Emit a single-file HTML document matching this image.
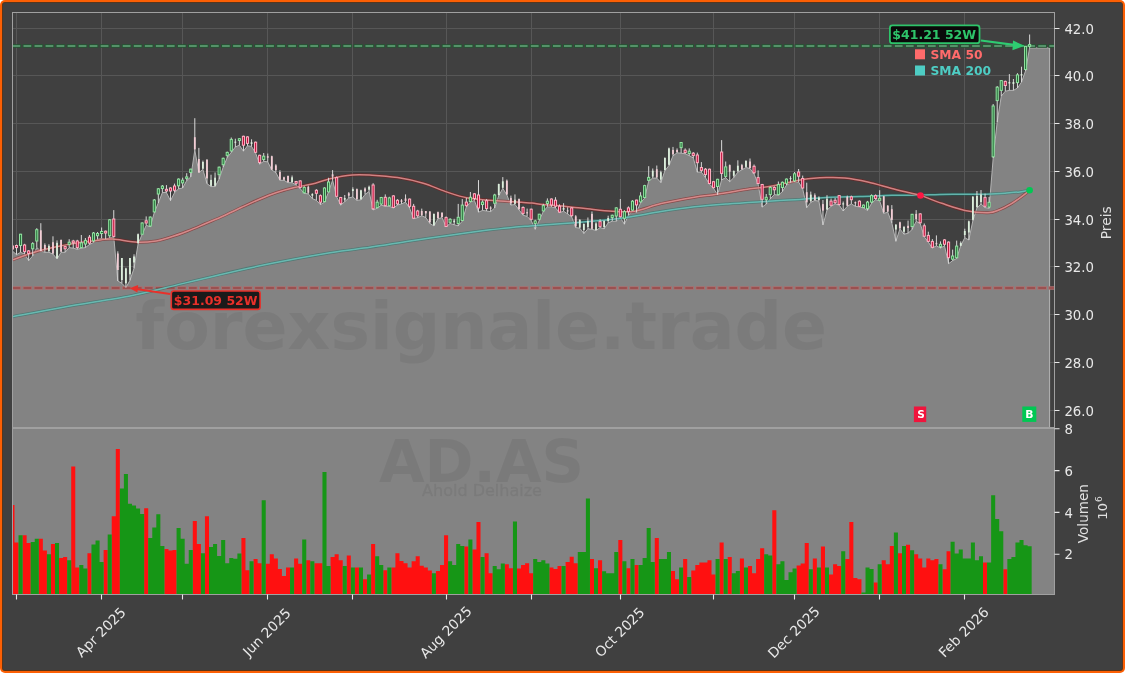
<!DOCTYPE html>
<html><head><meta charset="utf-8"><title>AD.AS Chart</title>
<style>html,body{margin:0;padding:0;background:#fff;width:1125px;height:673px;overflow:hidden}
#c{position:relative;width:1125px;height:673px}
svg{will-change:transform}</style></head>
<body><div id="c"><svg width="1125" height="673" viewBox="0 0 1125 673" style="position:absolute;left:0;top:0">
<defs><clipPath id="cp"><rect x="12.5" y="12.5" width="1042.0" height="415.5"/></clipPath>
<clipPath id="cv"><rect x="12.5" y="428.0" width="1042.0" height="166.5"/></clipPath></defs>
<rect x="0" y="0" width="1125" height="673" rx="5" ry="5" fill="#fc5f04"/>
<rect x="2" y="2" width="1121" height="669" rx="3" ry="3" fill="#5e3414"/>
<rect x="2.8" y="2.8" width="1119.4" height="667.2" rx="2" ry="2" fill="#404040"/>
<path d="M12.5 410.5H1054.5 M12.5 362.5H1054.5 M12.5 314.5H1054.5 M12.5 266.5H1054.5 M12.5 219.5H1054.5 M12.5 171.5H1054.5 M12.5 123.5H1054.5 M12.5 75.5H1054.5 M12.5 28.5H1054.5 M16.5 12.5V428.0 M101.5 12.5V428.0 M182.5 12.5V428.0 M267.5 12.5V428.0 M352.5 12.5V428.0 M446.5 12.5V428.0 M531.5 12.5V428.0 M620.5 12.5V428.0 M713.5 12.5V428.0 M794.5 12.5V428.0 M879.5 12.5V428.0 M964.5 12.5V428.0" stroke="#575757" stroke-width="1" fill="none" clip-path="url(#cp)"/>
<g clip-path="url(#cp)">
<polygon points="12.5,251.0 12.4,251.0 16.5,254.7 20.6,252.3 24.6,254.1 28.7,260.6 32.7,255.9 36.8,247.6 40.8,251.1 44.9,252.3 48.9,252.3 53.0,254.1 57.0,258.9 61.1,252.3 65.1,252.3 69.2,247.6 73.2,248.2 77.3,249.3 81.3,248.2 85.4,247.6 89.4,244.6 93.5,242.4 97.6,239.4 101.6,238.4 105.7,239.0 109.7,237.9 113.8,237.2 117.8,281.0 121.9,283.3 125.9,287.7 130.0,280.3 134.0,268.4 138.1,243.9 142.1,234.5 146.2,225.3 150.2,226.8 154.3,212.6 158.3,203.0 162.4,192.5 166.4,192.5 170.5,200.7 174.6,192.5 178.6,188.8 182.7,188.0 186.7,180.6 190.8,176.9 194.8,150.1 198.9,172.5 202.9,169.5 207.0,183.6 211.0,186.6 215.1,186.6 219.1,179.1 223.2,167.2 227.2,157.6 231.3,152.4 235.3,147.0 239.4,145.2 243.4,151.2 247.5,145.8 251.5,146.4 255.6,153.0 259.7,164.2 263.7,161.3 267.8,161.9 271.8,170.0 275.9,172.6 279.9,180.3 284.0,180.3 288.0,182.7 292.1,182.7 296.1,185.0 300.2,188.6 304.2,193.4 308.3,193.9 312.3,198.6 316.4,200.4 320.4,204.6 324.5,202.2 328.5,192.1 332.6,180.2 336.7,196.9 340.7,205.2 344.8,201.6 348.8,198.0 352.9,196.9 356.9,200.4 361.0,199.8 365.0,194.5 369.1,191.5 373.1,210.0 377.2,208.2 381.2,205.2 385.3,206.3 389.3,206.3 393.4,208.0 397.4,205.1 401.5,203.9 405.5,202.1 409.6,208.0 413.6,218.8 417.7,217.6 421.8,215.8 425.8,217.6 429.9,223.5 433.9,225.9 438.0,218.8 442.0,217.6 446.1,226.8 450.1,223.5 454.2,224.7 458.2,225.9 462.3,221.1 466.3,206.9 470.4,202.1 474.4,200.3 478.5,212.2 482.5,210.4 486.6,211.0 490.6,211.6 494.7,208.0 498.8,195.6 502.8,188.4 506.9,195.0 510.9,205.1 515.0,204.5 519.0,209.8 523.1,215.2 527.1,216.4 531.2,220.5 535.2,229.3 539.3,220.4 543.3,211.5 547.4,206.8 551.4,206.8 555.5,207.9 559.5,212.7 563.6,211.2 567.6,213.9 571.7,216.9 575.7,227.6 579.8,228.2 583.9,233.5 587.9,228.8 592.0,229.3 596.0,230.5 600.1,227.6 604.1,228.8 608.2,222.8 612.2,221.2 616.3,221.2 620.3,217.5 624.4,224.2 628.4,215.3 632.5,210.8 636.5,212.3 640.6,202.7 644.6,198.2 648.7,181.1 652.7,178.1 656.8,178.1 660.9,182.6 664.9,170.7 669.0,165.5 673.0,155.8 677.1,152.8 681.1,153.2 685.2,153.8 689.2,155.6 693.3,158.0 697.3,172.2 701.4,172.2 705.4,177.6 709.5,184.1 713.5,188.3 717.6,194.8 721.6,180.0 725.7,177.6 729.7,181.7 733.8,177.6 737.8,172.2 741.9,169.8 746.0,167.5 750.0,168.6 754.1,174.0 758.1,184.1 762.2,207.1 766.2,204.1 770.3,198.8 774.3,194.6 778.4,195.2 782.4,191.6 786.5,185.1 790.5,182.7 794.6,182.1 798.6,182.1 802.7,188.6 806.7,207.7 810.8,202.3 814.8,200.5 818.9,201.1 823.0,224.9 827.0,210.0 831.1,206.3 835.1,203.9 839.2,205.1 843.2,211.0 847.3,206.3 851.3,203.9 855.4,206.3 859.4,206.9 863.5,208.0 867.5,210.4 871.6,203.3 875.6,199.7 879.7,200.9 883.7,213.4 887.8,212.2 891.8,222.9 895.9,241.3 899.9,228.9 904.0,234.2 908.1,233.2 912.1,229.5 916.2,221.3 920.2,223.5 924.3,236.9 928.3,242.1 932.4,248.1 936.4,245.8 940.5,248.1 944.5,245.8 948.6,263.7 952.6,260.7 956.7,258.5 960.7,245.8 964.8,237.7 968.8,240.0 972.9,220.6 976.9,208.0 981.0,204.0 985.1,207.6 989.1,208.3 993.2,158.1 997.2,122.0 1001.3,96.1 1005.3,91.2 1009.4,90.4 1013.4,90.4 1017.5,88.0 1021.5,82.2 1025.6,70.8 1029.6,47.9 1049.6,47.9 1049.6,428.0 12.5,428.0" fill="#838383"/>
<polyline points="12.5,251.0 12.4,251.0 16.5,254.7 20.6,252.3 24.6,254.1 28.7,260.6 32.7,255.9 36.8,247.6 40.8,251.1 44.9,252.3 48.9,252.3 53.0,254.1 57.0,258.9 61.1,252.3 65.1,252.3 69.2,247.6 73.2,248.2 77.3,249.3 81.3,248.2 85.4,247.6 89.4,244.6 93.5,242.4 97.6,239.4 101.6,238.4 105.7,239.0 109.7,237.9 113.8,237.2 117.8,281.0 121.9,283.3 125.9,287.7 130.0,280.3 134.0,268.4 138.1,243.9 142.1,234.5 146.2,225.3 150.2,226.8 154.3,212.6 158.3,203.0 162.4,192.5 166.4,192.5 170.5,200.7 174.6,192.5 178.6,188.8 182.7,188.0 186.7,180.6 190.8,176.9 194.8,150.1 198.9,172.5 202.9,169.5 207.0,183.6 211.0,186.6 215.1,186.6 219.1,179.1 223.2,167.2 227.2,157.6 231.3,152.4 235.3,147.0 239.4,145.2 243.4,151.2 247.5,145.8 251.5,146.4 255.6,153.0 259.7,164.2 263.7,161.3 267.8,161.9 271.8,170.0 275.9,172.6 279.9,180.3 284.0,180.3 288.0,182.7 292.1,182.7 296.1,185.0 300.2,188.6 304.2,193.4 308.3,193.9 312.3,198.6 316.4,200.4 320.4,204.6 324.5,202.2 328.5,192.1 332.6,180.2 336.7,196.9 340.7,205.2 344.8,201.6 348.8,198.0 352.9,196.9 356.9,200.4 361.0,199.8 365.0,194.5 369.1,191.5 373.1,210.0 377.2,208.2 381.2,205.2 385.3,206.3 389.3,206.3 393.4,208.0 397.4,205.1 401.5,203.9 405.5,202.1 409.6,208.0 413.6,218.8 417.7,217.6 421.8,215.8 425.8,217.6 429.9,223.5 433.9,225.9 438.0,218.8 442.0,217.6 446.1,226.8 450.1,223.5 454.2,224.7 458.2,225.9 462.3,221.1 466.3,206.9 470.4,202.1 474.4,200.3 478.5,212.2 482.5,210.4 486.6,211.0 490.6,211.6 494.7,208.0 498.8,195.6 502.8,188.4 506.9,195.0 510.9,205.1 515.0,204.5 519.0,209.8 523.1,215.2 527.1,216.4 531.2,220.5 535.2,229.3 539.3,220.4 543.3,211.5 547.4,206.8 551.4,206.8 555.5,207.9 559.5,212.7 563.6,211.2 567.6,213.9 571.7,216.9 575.7,227.6 579.8,228.2 583.9,233.5 587.9,228.8 592.0,229.3 596.0,230.5 600.1,227.6 604.1,228.8 608.2,222.8 612.2,221.2 616.3,221.2 620.3,217.5 624.4,224.2 628.4,215.3 632.5,210.8 636.5,212.3 640.6,202.7 644.6,198.2 648.7,181.1 652.7,178.1 656.8,178.1 660.9,182.6 664.9,170.7 669.0,165.5 673.0,155.8 677.1,152.8 681.1,153.2 685.2,153.8 689.2,155.6 693.3,158.0 697.3,172.2 701.4,172.2 705.4,177.6 709.5,184.1 713.5,188.3 717.6,194.8 721.6,180.0 725.7,177.6 729.7,181.7 733.8,177.6 737.8,172.2 741.9,169.8 746.0,167.5 750.0,168.6 754.1,174.0 758.1,184.1 762.2,207.1 766.2,204.1 770.3,198.8 774.3,194.6 778.4,195.2 782.4,191.6 786.5,185.1 790.5,182.7 794.6,182.1 798.6,182.1 802.7,188.6 806.7,207.7 810.8,202.3 814.8,200.5 818.9,201.1 823.0,224.9 827.0,210.0 831.1,206.3 835.1,203.9 839.2,205.1 843.2,211.0 847.3,206.3 851.3,203.9 855.4,206.3 859.4,206.9 863.5,208.0 867.5,210.4 871.6,203.3 875.6,199.7 879.7,200.9 883.7,213.4 887.8,212.2 891.8,222.9 895.9,241.3 899.9,228.9 904.0,234.2 908.1,233.2 912.1,229.5 916.2,221.3 920.2,223.5 924.3,236.9 928.3,242.1 932.4,248.1 936.4,245.8 940.5,248.1 944.5,245.8 948.6,263.7 952.6,260.7 956.7,258.5 960.7,245.8 964.8,237.7 968.8,240.0 972.9,220.6 976.9,208.0 981.0,204.0 985.1,207.6 989.1,208.3 993.2,158.1 997.2,122.0 1001.3,96.1 1005.3,91.2 1009.4,90.4 1013.4,90.4 1017.5,88.0 1021.5,82.2 1025.6,70.8 1029.6,47.9 1049.6,47.9 1049.6,428.0" fill="none" stroke="#b4b4b4" stroke-width="1" stroke-linejoin="round"/>
<text x="481.2" y="349.3" text-anchor="middle" font-family="DejaVu Sans, sans-serif" font-weight="bold" font-size="66.4" fill="#000" fill-opacity="0.06">forexsignale.trade</text>
<line x1="11.5" y1="46" x2="1054.5" y2="46" stroke="#235532" stroke-width="3.6" stroke-dasharray="9.7 1.33"/>
<line x1="12.5" y1="46" x2="1054.5" y2="46" stroke="#559169" stroke-width="2" stroke-dasharray="7.7 3.33"/>
<line x1="11.5" y1="288" x2="1054.5" y2="288" stroke="#aa6e6e" stroke-width="3.6" stroke-dasharray="9.7 1.33"/>
<line x1="12.5" y1="288" x2="1054.5" y2="288" stroke="#9b5050" stroke-width="2" stroke-dasharray="7.7 3.33"/>
<path d="M12.2 316.8 C20.7 315.2 43.7 310.7 63.3 307.2 C82.9 303.7 113.0 299.1 130.0 295.9 C147.1 292.6 150.8 291.2 165.6 287.7 C180.4 284.2 201.1 279.0 218.9 274.9 C236.7 270.8 253.7 267.0 272.2 263.3 C290.7 259.6 313.7 255.4 330.0 252.7 C346.3 250.0 356.7 249.2 370.0 247.3 C383.3 245.4 396.7 243.0 410.0 241.0 C423.3 239.0 436.7 237.1 450.0 235.2 C463.3 233.3 476.7 231.4 490.0 229.8 C503.3 228.2 520.0 226.8 530.0 225.9 C540.0 225.0 539.3 225.4 550.0 224.6 C560.7 223.8 581.4 222.2 594.4 221.0 C607.4 219.8 616.7 218.8 627.8 217.2 C638.9 215.6 650.0 213.1 661.1 211.4 C672.2 209.7 683.3 208.1 694.4 206.8 C705.5 205.6 714.8 204.9 727.8 203.9 C740.8 202.9 760.2 201.8 772.2 201.0 C784.2 200.2 791.0 200.0 800.0 199.4 C809.0 198.8 816.2 197.9 826.2 197.4 C836.2 196.9 849.0 196.8 860.0 196.5 C871.0 196.2 881.9 195.5 892.0 195.3 C902.1 195.1 912.5 195.3 920.5 195.2 C928.5 195.0 931.4 194.6 940.0 194.4 C948.6 194.2 963.5 194.4 972.0 194.3 C980.5 194.2 985.7 194.2 991.2 194.0 C996.7 193.8 1000.2 193.5 1005.0 193.2 C1009.8 192.8 1015.9 192.4 1020.0 191.9 C1024.1 191.4 1028.0 190.6 1029.6 190.3" fill="none" stroke="#146e64" stroke-width="3" stroke-opacity="0.45"/>
<path d="M12.2 316.8 C20.7 315.2 43.7 310.7 63.3 307.2 C82.9 303.7 113.0 299.1 130.0 295.9 C147.1 292.6 150.8 291.2 165.6 287.7 C180.4 284.2 201.1 279.0 218.9 274.9 C236.7 270.8 253.7 267.0 272.2 263.3 C290.7 259.6 313.7 255.4 330.0 252.7 C346.3 250.0 356.7 249.2 370.0 247.3 C383.3 245.4 396.7 243.0 410.0 241.0 C423.3 239.0 436.7 237.1 450.0 235.2 C463.3 233.3 476.7 231.4 490.0 229.8 C503.3 228.2 520.0 226.8 530.0 225.9 C540.0 225.0 539.3 225.4 550.0 224.6 C560.7 223.8 581.4 222.2 594.4 221.0 C607.4 219.8 616.7 218.8 627.8 217.2 C638.9 215.6 650.0 213.1 661.1 211.4 C672.2 209.7 683.3 208.1 694.4 206.8 C705.5 205.6 714.8 204.9 727.8 203.9 C740.8 202.9 760.2 201.8 772.2 201.0 C784.2 200.2 791.0 200.0 800.0 199.4 C809.0 198.8 816.2 197.9 826.2 197.4 C836.2 196.9 849.0 196.8 860.0 196.5 C871.0 196.2 881.9 195.5 892.0 195.3 C902.1 195.1 912.5 195.3 920.5 195.2 C928.5 195.0 931.4 194.6 940.0 194.4 C948.6 194.2 963.5 194.4 972.0 194.3 C980.5 194.2 985.7 194.2 991.2 194.0 C996.7 193.8 1000.2 193.5 1005.0 193.2 C1009.8 192.8 1015.9 192.4 1020.0 191.9 C1024.1 191.4 1028.0 190.6 1029.6 190.3" fill="none" stroke="#6cc4bc" stroke-width="1.5" stroke-opacity="0.85"/>
<path d="M12.5 259.8 C17.3 258.2 31.1 253.0 41.1 250.3 C51.1 247.6 62.4 245.4 72.2 243.7 C82.0 242.0 93.5 240.8 100.2 240.0 C107.0 239.2 106.5 238.7 112.7 239.1 C118.9 239.5 130.3 241.9 137.6 242.2 C144.8 242.5 150.8 241.7 156.2 240.9 C161.6 240.1 164.7 239.0 170.0 237.3 C175.3 235.7 181.9 233.3 187.8 231.0 C193.7 228.7 199.7 226.0 205.6 223.5 C211.5 221.0 217.4 218.7 223.3 216.0 C229.2 213.3 235.2 210.2 241.1 207.5 C247.0 204.8 253.0 202.0 258.9 199.5 C264.8 197.0 270.8 194.5 276.7 192.5 C282.6 190.5 288.5 188.9 294.4 187.5 C300.3 186.1 306.3 185.5 312.2 184.0 C318.1 182.5 323.3 180.2 330.0 178.7 C336.7 177.2 345.2 175.6 352.2 175.0 C359.2 174.4 364.4 174.8 372.0 175.2 C379.6 175.6 389.1 176.3 397.6 177.6 C406.1 178.9 415.2 180.9 423.2 183.2 C431.2 185.5 438.1 189.1 445.6 191.6 C453.1 194.1 458.9 196.4 468.0 198.0 C477.1 199.6 491.1 200.3 500.0 201.0 C508.9 201.7 516.0 202.0 521.3 202.3 C526.6 202.7 528.4 202.7 532.0 203.1 C535.6 203.5 538.6 204.2 542.7 204.6 C546.9 205.0 550.1 205.0 556.9 205.6 C563.7 206.2 574.1 207.4 583.3 208.3 C592.5 209.2 603.7 210.7 612.2 211.2 C620.7 211.7 626.2 212.5 634.4 211.2 C642.5 209.9 651.1 205.9 661.1 203.6 C671.1 201.3 685.1 198.8 694.4 197.2 C703.7 195.6 707.4 195.6 716.7 194.2 C726.0 192.8 740.8 190.2 750.0 188.8 C759.2 187.5 763.4 187.7 772.2 186.1 C781.1 184.5 794.1 180.9 803.1 179.5 C812.1 178.1 819.3 177.8 826.2 177.6 C833.1 177.3 837.8 177.3 844.7 178.0 C851.6 178.7 860.1 180.3 867.8 182.0 C875.5 183.7 884.0 186.4 890.9 188.2 C897.8 190.0 904.5 191.6 909.4 192.8 C914.3 194.0 915.1 193.7 920.5 195.4 C925.9 197.2 934.4 200.8 941.8 203.3 C949.2 205.8 957.2 208.8 964.9 210.4 C972.6 212.0 982.2 212.8 988.0 212.7 C993.8 212.6 995.8 211.2 999.6 209.7 C1003.5 208.2 1007.2 206.2 1011.1 203.9 C1015.0 201.6 1019.6 198.1 1022.7 195.8 C1025.8 193.5 1028.4 191.2 1029.6 190.3" fill="none" stroke="#8c1414" stroke-width="3" stroke-opacity="0.5"/>
<path d="M12.5 259.8 C17.3 258.2 31.1 253.0 41.1 250.3 C51.1 247.6 62.4 245.4 72.2 243.7 C82.0 242.0 93.5 240.8 100.2 240.0 C107.0 239.2 106.5 238.7 112.7 239.1 C118.9 239.5 130.3 241.9 137.6 242.2 C144.8 242.5 150.8 241.7 156.2 240.9 C161.6 240.1 164.7 239.0 170.0 237.3 C175.3 235.7 181.9 233.3 187.8 231.0 C193.7 228.7 199.7 226.0 205.6 223.5 C211.5 221.0 217.4 218.7 223.3 216.0 C229.2 213.3 235.2 210.2 241.1 207.5 C247.0 204.8 253.0 202.0 258.9 199.5 C264.8 197.0 270.8 194.5 276.7 192.5 C282.6 190.5 288.5 188.9 294.4 187.5 C300.3 186.1 306.3 185.5 312.2 184.0 C318.1 182.5 323.3 180.2 330.0 178.7 C336.7 177.2 345.2 175.6 352.2 175.0 C359.2 174.4 364.4 174.8 372.0 175.2 C379.6 175.6 389.1 176.3 397.6 177.6 C406.1 178.9 415.2 180.9 423.2 183.2 C431.2 185.5 438.1 189.1 445.6 191.6 C453.1 194.1 458.9 196.4 468.0 198.0 C477.1 199.6 491.1 200.3 500.0 201.0 C508.9 201.7 516.0 202.0 521.3 202.3 C526.6 202.7 528.4 202.7 532.0 203.1 C535.6 203.5 538.6 204.2 542.7 204.6 C546.9 205.0 550.1 205.0 556.9 205.6 C563.7 206.2 574.1 207.4 583.3 208.3 C592.5 209.2 603.7 210.7 612.2 211.2 C620.7 211.7 626.2 212.5 634.4 211.2 C642.5 209.9 651.1 205.9 661.1 203.6 C671.1 201.3 685.1 198.8 694.4 197.2 C703.7 195.6 707.4 195.6 716.7 194.2 C726.0 192.8 740.8 190.2 750.0 188.8 C759.2 187.5 763.4 187.7 772.2 186.1 C781.1 184.5 794.1 180.9 803.1 179.5 C812.1 178.1 819.3 177.8 826.2 177.6 C833.1 177.3 837.8 177.3 844.7 178.0 C851.6 178.7 860.1 180.3 867.8 182.0 C875.5 183.7 884.0 186.4 890.9 188.2 C897.8 190.0 904.5 191.6 909.4 192.8 C914.3 194.0 915.1 193.7 920.5 195.4 C925.9 197.2 934.4 200.8 941.8 203.3 C949.2 205.8 957.2 208.8 964.9 210.4 C972.6 212.0 982.2 212.8 988.0 212.7 C993.8 212.6 995.8 211.2 999.6 209.7 C1003.5 208.2 1007.2 206.2 1011.1 203.9 C1015.0 201.6 1019.6 198.1 1022.7 195.8 C1025.8 193.5 1028.4 191.2 1029.6 190.3" fill="none" stroke="#e89a9a" stroke-width="1.5" stroke-opacity="0.8"/>
<path d="M12.45 244.0V251.0 M16.50 244.6V254.7 M20.55 233.9V252.3 M24.61 243.8V254.1 M28.66 250.0V260.6 M32.71 242.2V255.9 M36.77 228.2V247.6 M40.82 223.2V251.1 M44.87 243.4V252.3 M48.92 244.2V252.3 M52.98 236.3V254.1 M57.03 240.4V258.9 M61.08 239.8V252.3 M65.13 245.8V252.3 M69.19 239.2V247.6 M73.24 239.8V248.2 M77.29 239.8V249.3 M81.34 235.0V248.2 M85.40 238.0V247.6 M89.45 235.0V244.6 M93.50 232.0V242.4 M97.55 232.0V239.4 M101.61 227.5V238.4 M105.66 230.5V239.0 M109.71 219.0V237.9 M113.76 210.1V237.2 M117.82 251.3V281.0 M121.87 258.0V283.3 M125.92 267.7V287.7 M129.97 258.0V280.3 M134.03 254.3V268.4 M138.08 233.5V243.9 M142.13 222.3V234.5 M146.18 216.4V225.3 M150.23 216.4V226.8 M154.29 199.0V212.6 M158.34 188.0V203.0 M162.39 185.0V192.5 M166.44 185.1V192.5 M170.50 187.3V200.7 M174.55 183.6V192.5 M178.60 178.4V188.8 M182.66 177.7V188.0 M186.71 173.2V180.6 M190.76 168.7V176.9 M194.81 118.2V150.1 M198.87 147.9V172.5 M202.92 160.6V169.5 M206.97 159.1V183.6 M211.02 174.7V186.6 M215.07 172.5V186.6 M219.13 166.5V179.1 M223.18 157.6V167.2 M227.23 151.6V157.6 M231.28 137.5V152.4 M235.34 138.7V147.0 M239.39 138.1V145.2 M243.44 135.7V151.2 M247.50 136.3V145.8 M251.55 139.3V146.4 M255.60 141.6V153.0 M259.65 154.7V164.2 M263.71 153.0V161.3 M267.76 153.5V161.9 M271.81 155.7V170.0 M275.86 164.2V172.6 M279.92 170.2V180.3 M283.97 176.7V180.3 M288.02 175.5V182.7 M292.07 175.5V182.7 M296.12 180.9V185.0 M300.18 180.3V188.6 M304.23 186.2V193.4 M308.28 185.6V193.9 M312.33 193.3V198.6 M316.39 189.1V200.4 M320.44 194.5V204.6 M324.49 187.3V202.2 M328.55 177.8V192.1 M332.60 170.1V180.2 M336.65 176.6V196.9 M340.70 196.9V205.2 M344.75 195.0V201.6 M348.81 192.1V198.0 M352.86 187.3V196.9 M356.91 188.5V200.4 M360.97 189.7V199.8 M365.02 187.3V194.5 M369.07 185.6V191.5 M373.12 183.2V210.0 M377.18 199.8V208.2 M381.23 196.9V205.2 M385.28 194.4V206.3 M389.33 196.8V206.3 M393.38 195.2V208.0 M397.44 199.1V205.1 M401.49 199.1V203.9 M405.54 194.4V202.1 M409.60 198.5V208.0 M413.65 203.9V218.8 M417.70 209.8V217.6 M421.75 208.6V215.8 M425.81 211.0V217.6 M429.86 211.0V223.5 M433.91 213.4V225.9 M437.96 211.6V218.8 M442.01 212.2V217.6 M446.07 216.4V226.8 M450.12 218.2V223.5 M454.17 218.8V224.7 M458.23 203.9V225.9 M462.28 199.1V221.1 M466.33 197.9V206.9 M470.38 192.0V202.1 M474.44 193.2V200.3 M478.49 180.1V212.2 M482.54 200.3V210.4 M486.59 199.1V211.0 M490.65 206.3V211.6 M494.70 193.8V208.0 M498.75 183.7V195.6 M502.80 177.1V188.4 M506.86 179.5V195.0 M510.91 195.6V205.1 M514.96 194.4V204.5 M519.01 198.5V209.8 M523.07 206.3V215.2 M527.12 208.6V216.4 M531.17 208.6V220.5 M535.22 219.8V229.3 M539.28 213.9V220.4 M543.33 203.8V211.5 M547.38 198.4V206.8 M551.43 198.4V206.8 M555.49 197.2V207.9 M559.54 204.4V212.7 M563.59 203.2V211.2 M567.64 207.3V213.9 M571.70 207.3V216.9 M575.75 215.1V227.6 M579.80 219.2V228.2 M583.85 223.4V233.5 M587.91 217.5V228.8 M591.96 211.5V229.3 M596.01 222.2V230.5 M600.06 219.2V227.6 M604.12 220.4V228.8 M608.17 215.7V222.8 M612.22 214.6V221.2 M616.27 207.2V221.2 M620.33 199.0V217.5 M624.38 210.1V224.2 M628.43 206.4V215.3 M632.48 200.1V210.8 M636.54 199.7V212.3 M640.59 192.2V202.7 M644.64 184.8V198.2 M648.69 166.2V181.1 M652.75 168.5V178.1 M656.80 165.5V178.1 M660.85 170.7V182.6 M664.90 157.3V170.7 M668.96 147.6V165.5 M673.01 146.9V155.8 M677.06 148.4V152.8 M681.11 142.5V153.2 M685.17 148.4V153.8 M689.22 148.4V155.6 M693.27 152.0V158.0 M697.32 152.6V172.2 M701.38 162.1V172.2 M705.43 168.0V177.6 M709.48 168.6V184.1 M713.53 181.1V188.3 M717.59 178.8V194.8 M721.64 140.1V180.0 M725.69 161.5V177.6 M729.74 164.5V181.7 M733.80 170.4V177.6 M737.85 160.3V172.2 M741.90 163.9V169.8 M745.95 160.3V167.5 M750.01 158.5V168.6 M754.06 164.5V174.0 M758.11 170.4V184.1 M762.16 183.9V207.1 M766.22 194.0V204.1 M770.27 186.3V198.8 M774.32 186.3V194.6 M778.37 181.5V195.2 M782.43 181.5V191.6 M786.48 178.5V185.1 M790.53 176.2V182.7 M794.58 172.0V182.1 M798.64 169.0V182.1 M802.69 175.6V188.6 M806.74 182.7V207.7 M810.79 191.6V202.3 M814.85 193.4V200.5 M818.90 196.4V201.1 M822.95 200.0V224.9 M827.00 195.2V210.0 M831.06 198.5V206.3 M835.11 197.9V203.9 M839.16 195.0V205.1 M843.21 201.5V211.0 M847.27 195.6V206.3 M851.32 195.6V203.9 M855.37 201.5V206.3 M859.42 200.3V206.9 M863.48 204.5V208.0 M867.53 200.9V210.4 M871.58 194.4V203.3 M875.63 194.4V199.7 M879.69 190.2V200.9 M883.74 195.9V213.4 M887.79 205.1V212.2 M891.84 205.1V222.9 M895.90 224.1V241.3 M899.95 221.7V228.9 M904.00 225.9V234.2 M908.05 220.6V233.2 M912.11 213.9V229.5 M916.16 210.1V221.3 M920.21 213.1V223.5 M924.26 223.5V236.9 M928.32 231.7V242.1 M932.37 239.1V248.1 M936.42 235.4V245.8 M940.47 241.4V248.1 M944.53 239.1V245.8 M948.58 241.4V263.7 M952.63 249.6V260.7 M956.68 240.6V258.5 M960.74 241.4V245.8 M964.79 228.7V237.7 M968.84 220.6V240.0 M972.89 196.0V220.6 M976.95 191.0V208.0 M981.00 190.0V204.0 M985.05 193.6V207.6 M989.10 197.0V208.3 M993.16 104.0V158.1 M997.21 86.0V122.0 M1001.26 80.0V96.1 M1005.31 80.6V91.2 M1009.37 74.1V90.4 M1013.42 79.0V90.4 M1017.47 73.2V88.0 M1021.52 66.7V82.2 M1025.58 46.0V70.8 M1029.63 34.5V47.9" stroke="#d8d8d8" stroke-width="1" fill="none"/>
<rect x="11.40" y="246.0" width="2.1" height="3.0" fill="#c4103c" stroke="#ffb0c2" stroke-width="1"/><rect x="15.45" y="245.5" width="2.1" height="2.1" fill="#c4103c" stroke="#ffb0c2" stroke-width="1"/><rect x="19.50" y="234.2" width="2.1" height="11.3" fill="#27713a" stroke="#90e4a0" stroke-width="1"/><rect x="23.56" y="245.0" width="2.1" height="6.7" fill="#c4103c" stroke="#ffb0c2" stroke-width="1"/><rect x="27.61" y="250.9" width="2.1" height="2.6" fill="#c4103c" stroke="#ffb0c2" stroke-width="1"/><rect x="31.66" y="243.6" width="2.1" height="5.2" fill="#27713a" stroke="#90e4a0" stroke-width="1"/><rect x="35.72" y="229.7" width="2.1" height="11.3" fill="#27713a" stroke="#90e4a0" stroke-width="1"/><rect x="39.92" y="230.3" width="1.8" height="20.8" fill="#f3cdd5"/><rect x="43.97" y="245.0" width="1.8" height="4.0" fill="#f3cdd5"/><rect x="48.02" y="245.8" width="1.8" height="5.3" fill="#dcefdc"/><rect x="52.08" y="242.2" width="1.8" height="11.3" fill="#f3cdd5"/><rect x="56.13" y="242.8" width="1.8" height="15.5" fill="#dcefdc"/><rect x="60.18" y="239.8" width="1.8" height="11.9" fill="#f3cdd5"/><rect x="64.08" y="246.6" width="2.1" height="2.2" fill="#c4103c" stroke="#ffb0c2" stroke-width="1"/><rect x="68.14" y="242.2" width="2.1" height="2.4" fill="#27713a" stroke="#90e4a0" stroke-width="1"/><rect x="72.19" y="241.0" width="2.1" height="1.8" fill="#c4103c" stroke="#ffb0c2" stroke-width="1"/><rect x="76.24" y="241.0" width="2.1" height="6.6" fill="#c4103c" stroke="#ffb0c2" stroke-width="1"/><rect x="80.29" y="242.8" width="2.1" height="4.8" fill="#27713a" stroke="#90e4a0" stroke-width="1"/><rect x="84.35" y="240.4" width="2.1" height="3.6" fill="#27713a" stroke="#90e4a0" stroke-width="1"/><rect x="88.40" y="237.2" width="2.1" height="5.9" fill="#c4103c" stroke="#ffb0c2" stroke-width="1"/><rect x="92.45" y="233.0" width="2.1" height="7.9" fill="#27713a" stroke="#90e4a0" stroke-width="1"/><rect x="96.50" y="233.5" width="2.1" height="2.2" fill="#27713a" stroke="#90e4a0" stroke-width="1"/><rect x="100.56" y="231.5" width="2.1" height="2.0" fill="#27713a" stroke="#90e4a0" stroke-width="1"/><rect x="104.61" y="231.2" width="2.1" height="1.8" fill="#c4103c" stroke="#ffb0c2" stroke-width="1"/><rect x="108.66" y="219.8" width="2.1" height="15.9" fill="#27713a" stroke="#90e4a0" stroke-width="1"/><rect x="112.71" y="219.0" width="2.1" height="17.4" fill="#c4103c" stroke="#ffb0c2" stroke-width="1"/><rect x="116.92" y="253.5" width="1.8" height="16.5" fill="#f3cdd5"/><rect x="120.97" y="258.0" width="1.8" height="22.0" fill="#dcefdc"/><rect x="125.02" y="268.4" width="1.8" height="14.9" fill="#dcefdc"/><rect x="129.07" y="258.0" width="1.8" height="16.3" fill="#dcefdc"/><rect x="133.12" y="256.5" width="1.8" height="6.0" fill="#dcefdc"/><rect x="137.18" y="234.2" width="1.8" height="8.9" fill="#dcefdc"/><rect x="141.08" y="223.0" width="2.1" height="11.2" fill="#27713a" stroke="#90e4a0" stroke-width="1"/><rect x="145.13" y="220.8" width="2.1" height="2.2" fill="#c4103c" stroke="#ffb0c2" stroke-width="1"/><rect x="149.18" y="217.1" width="2.1" height="8.9" fill="#27713a" stroke="#90e4a0" stroke-width="1"/><rect x="153.24" y="200.0" width="2.1" height="11.9" fill="#27713a" stroke="#90e4a0" stroke-width="1"/><rect x="157.29" y="188.8" width="2.1" height="5.2" fill="#27713a" stroke="#90e4a0" stroke-width="1"/><rect x="161.34" y="186.1" width="2.1" height="2.4" fill="#27713a" stroke="#90e4a0" stroke-width="1"/><rect x="165.39" y="189.3" width="2.1" height="1.7" fill="#c4103c" stroke="#ffb0c2" stroke-width="1"/><rect x="169.45" y="188.0" width="2.1" height="3.0" fill="#c4103c" stroke="#ffb0c2" stroke-width="1"/><rect x="173.50" y="186.0" width="2.1" height="4.3" fill="#c4103c" stroke="#ffb0c2" stroke-width="1"/><rect x="177.55" y="179.1" width="2.1" height="6.7" fill="#27713a" stroke="#90e4a0" stroke-width="1"/><rect x="181.60" y="180.2" width="2.1" height="2.7" fill="#27713a" stroke="#90e4a0" stroke-width="1"/><rect x="185.66" y="176.9" width="2.1" height="1.5" fill="#27713a" stroke="#90e4a0" stroke-width="1"/><rect x="189.71" y="169.2" width="2.1" height="3.3" fill="#27713a" stroke="#90e4a0" stroke-width="1"/><rect x="193.91" y="137.2" width="1.8" height="12.2" fill="#f3cdd5"/><rect x="197.97" y="159.0" width="1.8" height="13.5" fill="#f3cdd5"/><rect x="202.02" y="162.0" width="1.8" height="6.7" fill="#dcefdc"/><rect x="206.07" y="159.8" width="1.8" height="18.6" fill="#f3cdd5"/><rect x="210.12" y="179.9" width="1.8" height="5.9" fill="#dcefdc"/><rect x="214.17" y="177.7" width="1.8" height="8.1" fill="#dcefdc"/><rect x="218.08" y="167.2" width="2.1" height="7.5" fill="#27713a" stroke="#90e4a0" stroke-width="1"/><rect x="222.13" y="158.3" width="2.1" height="6.4" fill="#27713a" stroke="#90e4a0" stroke-width="1"/><rect x="226.18" y="152.4" width="2.1" height="3.0" fill="#27713a" stroke="#90e4a0" stroke-width="1"/><rect x="230.23" y="139.4" width="2.1" height="11.5" fill="#27713a" stroke="#90e4a0" stroke-width="1"/><rect x="234.44" y="141.6" width="1.8" height="1.2" fill="#dcefdc"/><rect x="238.34" y="138.7" width="2.1" height="1.8" fill="#27713a" stroke="#90e4a0" stroke-width="1"/><rect x="242.39" y="136.3" width="2.1" height="8.9" fill="#c4103c" stroke="#ffb0c2" stroke-width="1"/><rect x="246.44" y="136.9" width="2.1" height="6.5" fill="#c4103c" stroke="#ffb0c2" stroke-width="1"/><rect x="250.65" y="142.2" width="1.8" height="1.8" fill="#dcefdc"/><rect x="254.55" y="142.2" width="2.1" height="10.1" fill="#c4103c" stroke="#ffb0c2" stroke-width="1"/><rect x="258.60" y="155.3" width="2.1" height="7.2" fill="#c4103c" stroke="#ffb0c2" stroke-width="1"/><rect x="262.66" y="156.2" width="2.1" height="3.3" fill="#27713a" stroke="#90e4a0" stroke-width="1"/><rect x="266.86" y="156.2" width="1.8" height="1.5" fill="#f3cdd5"/><rect x="270.91" y="156.2" width="1.8" height="13.4" fill="#f3cdd5"/><rect x="274.96" y="165.4" width="1.8" height="4.8" fill="#f3cdd5"/><rect x="279.02" y="172.0" width="1.8" height="7.7" fill="#f3cdd5"/><rect x="283.07" y="177.3" width="1.8" height="2.4" fill="#f3cdd5"/><rect x="287.12" y="176.0" width="1.8" height="6.0" fill="#f3cdd5"/><rect x="291.17" y="177.3" width="1.8" height="4.7" fill="#dcefdc"/><rect x="295.07" y="181.5" width="2.1" height="1.8" fill="#c4103c" stroke="#ffb0c2" stroke-width="1"/><rect x="299.13" y="180.9" width="2.1" height="6.5" fill="#c4103c" stroke="#ffb0c2" stroke-width="1"/><rect x="303.18" y="187.4" width="2.1" height="5.4" fill="#27713a" stroke="#90e4a0" stroke-width="1"/><rect x="307.38" y="186.8" width="1.8" height="5.9" fill="#f3cdd5"/><rect x="311.44" y="193.9" width="1.8" height="1.8" fill="#dcefdc"/><rect x="315.34" y="190.3" width="2.1" height="3.0" fill="#c4103c" stroke="#ffb0c2" stroke-width="1"/><rect x="319.39" y="195.7" width="2.1" height="6.5" fill="#c4103c" stroke="#ffb0c2" stroke-width="1"/><rect x="323.44" y="188.0" width="2.1" height="13.6" fill="#27713a" stroke="#90e4a0" stroke-width="1"/><rect x="327.50" y="182.0" width="2.1" height="9.9" fill="#27713a" stroke="#90e4a0" stroke-width="1"/><rect x="331.70" y="174.3" width="1.8" height="2.3" fill="#f3cdd5"/><rect x="335.60" y="177.6" width="2.1" height="18.7" fill="#c4103c" stroke="#ffb0c2" stroke-width="1"/><rect x="339.65" y="197.5" width="2.1" height="5.9" fill="#c4103c" stroke="#ffb0c2" stroke-width="1"/><rect x="343.86" y="198.0" width="1.8" height="1.8" fill="#dcefdc"/><rect x="347.91" y="193.3" width="1.8" height="2.4" fill="#f3cdd5"/><rect x="351.96" y="189.1" width="1.8" height="1.9" fill="#dcefdc"/><rect x="356.01" y="189.1" width="1.8" height="10.1" fill="#f3cdd5"/><rect x="360.07" y="190.3" width="1.8" height="8.9" fill="#dcefdc"/><rect x="364.12" y="188.5" width="1.8" height="3.0" fill="#f3cdd5"/><rect x="368.17" y="186.8" width="1.8" height="2.9" fill="#dcefdc"/><rect x="372.07" y="185.0" width="2.1" height="23.8" fill="#c4103c" stroke="#ffb0c2" stroke-width="1"/><rect x="376.12" y="202.2" width="2.1" height="5.4" fill="#27713a" stroke="#90e4a0" stroke-width="1"/><rect x="380.18" y="197.5" width="2.1" height="6.5" fill="#27713a" stroke="#90e4a0" stroke-width="1"/><rect x="384.23" y="197.3" width="2.1" height="8.4" fill="#c4103c" stroke="#ffb0c2" stroke-width="1"/><rect x="388.28" y="197.9" width="2.1" height="7.8" fill="#27713a" stroke="#90e4a0" stroke-width="1"/><rect x="392.33" y="195.9" width="2.1" height="11.6" fill="#c4103c" stroke="#ffb0c2" stroke-width="1"/><rect x="396.39" y="200.3" width="2.1" height="3.6" fill="#c4103c" stroke="#ffb0c2" stroke-width="1"/><rect x="400.59" y="200.3" width="1.8" height="1.6" fill="#f3cdd5"/><rect x="404.64" y="198.5" width="1.8" height="2.4" fill="#f3cdd5"/><rect x="408.55" y="199.1" width="2.1" height="7.2" fill="#c4103c" stroke="#ffb0c2" stroke-width="1"/><rect x="412.60" y="206.3" width="2.1" height="11.9" fill="#c4103c" stroke="#ffb0c2" stroke-width="1"/><rect x="416.65" y="211.0" width="2.1" height="4.8" fill="#c4103c" stroke="#ffb0c2" stroke-width="1"/><rect x="420.85" y="211.0" width="1.8" height="4.2" fill="#f3cdd5"/><rect x="424.91" y="211.0" width="1.8" height="2.4" fill="#f3cdd5"/><rect x="428.96" y="211.6" width="1.8" height="10.7" fill="#f3cdd5"/><rect x="433.01" y="214.0" width="1.8" height="11.3" fill="#dcefdc"/><rect x="437.06" y="212.2" width="1.8" height="6.0" fill="#f3cdd5"/><rect x="441.12" y="212.8" width="1.8" height="4.2" fill="#f3cdd5"/><rect x="445.02" y="217.6" width="2.1" height="8.9" fill="#c4103c" stroke="#ffb0c2" stroke-width="1"/><rect x="449.07" y="219.3" width="2.1" height="3.0" fill="#27713a" stroke="#90e4a0" stroke-width="1"/><rect x="453.27" y="220.5" width="1.8" height="1.8" fill="#dcefdc"/><rect x="457.18" y="217.3" width="2.1" height="6.2" fill="#27713a" stroke="#90e4a0" stroke-width="1"/><rect x="461.23" y="205.1" width="2.1" height="15.4" fill="#27713a" stroke="#90e4a0" stroke-width="1"/><rect x="465.28" y="202.1" width="2.1" height="3.6" fill="#c4103c" stroke="#ffb0c2" stroke-width="1"/><rect x="469.33" y="197.3" width="2.1" height="4.2" fill="#27713a" stroke="#90e4a0" stroke-width="1"/><rect x="473.38" y="193.8" width="2.1" height="4.7" fill="#c4103c" stroke="#ffb0c2" stroke-width="1"/><rect x="477.44" y="195.0" width="2.1" height="13.0" fill="#c4103c" stroke="#ffb0c2" stroke-width="1"/><rect x="481.49" y="202.1" width="2.1" height="2.4" fill="#27713a" stroke="#90e4a0" stroke-width="1"/><rect x="485.54" y="200.7" width="2.1" height="7.9" fill="#c4103c" stroke="#ffb0c2" stroke-width="1"/><rect x="489.75" y="207.5" width="1.8" height="1.2" fill="#f3cdd5"/><rect x="493.65" y="195.0" width="2.1" height="8.3" fill="#27713a" stroke="#90e4a0" stroke-width="1"/><rect x="497.85" y="184.0" width="1.8" height="11.0" fill="#dcefdc"/><rect x="501.90" y="181.3" width="1.8" height="6.5" fill="#dcefdc"/><rect x="505.96" y="180.7" width="1.8" height="13.7" fill="#f3cdd5"/><rect x="510.01" y="197.9" width="1.8" height="5.4" fill="#f3cdd5"/><rect x="514.06" y="199.7" width="1.8" height="4.2" fill="#dcefdc"/><rect x="518.11" y="199.1" width="1.8" height="10.1" fill="#f3cdd5"/><rect x="522.02" y="207.5" width="2.1" height="5.9" fill="#c4103c" stroke="#ffb0c2" stroke-width="1"/><rect x="526.22" y="212.2" width="1.8" height="1.2" fill="#f3cdd5"/><rect x="530.12" y="209.2" width="2.1" height="10.1" fill="#c4103c" stroke="#ffb0c2" stroke-width="1"/><rect x="534.17" y="221.0" width="2.1" height="2.4" fill="#27713a" stroke="#90e4a0" stroke-width="1"/><rect x="538.23" y="214.2" width="2.1" height="5.0" fill="#27713a" stroke="#90e4a0" stroke-width="1"/><rect x="542.28" y="205.6" width="2.1" height="5.3" fill="#27713a" stroke="#90e4a0" stroke-width="1"/><rect x="546.33" y="201.2" width="2.1" height="2.3" fill="#27713a" stroke="#90e4a0" stroke-width="1"/><rect x="550.38" y="199.0" width="2.1" height="6.0" fill="#c4103c" stroke="#ffb0c2" stroke-width="1"/><rect x="554.44" y="200.2" width="2.1" height="6.0" fill="#c4103c" stroke="#ffb0c2" stroke-width="1"/><rect x="558.49" y="206.2" width="2.1" height="5.9" fill="#c4103c" stroke="#ffb0c2" stroke-width="1"/><rect x="562.69" y="207.9" width="1.8" height="1.8" fill="#dcefdc"/><rect x="566.74" y="210.3" width="1.8" height="1.2" fill="#f3cdd5"/><rect x="570.65" y="207.9" width="2.1" height="7.8" fill="#c4103c" stroke="#ffb0c2" stroke-width="1"/><rect x="574.85" y="216.3" width="1.8" height="10.1" fill="#f3cdd5"/><rect x="578.90" y="219.8" width="1.8" height="7.8" fill="#dcefdc"/><rect x="582.95" y="224.0" width="1.8" height="6.0" fill="#dcefdc"/><rect x="587.01" y="221.0" width="1.8" height="6.0" fill="#dcefdc"/><rect x="591.06" y="213.9" width="1.8" height="14.9" fill="#f3cdd5"/><rect x="595.11" y="223.4" width="1.8" height="6.6" fill="#dcefdc"/><rect x="599.01" y="221.6" width="2.1" height="4.8" fill="#c4103c" stroke="#ffb0c2" stroke-width="1"/><rect x="603.22" y="221.0" width="1.8" height="6.0" fill="#dcefdc"/><rect x="607.27" y="218.0" width="1.8" height="3.0" fill="#dcefdc"/><rect x="611.17" y="215.3" width="2.1" height="2.2" fill="#27713a" stroke="#90e4a0" stroke-width="1"/><rect x="615.22" y="207.9" width="2.1" height="8.1" fill="#27713a" stroke="#90e4a0" stroke-width="1"/><rect x="619.28" y="209.3" width="2.1" height="7.5" fill="#c4103c" stroke="#ffb0c2" stroke-width="1"/><rect x="623.33" y="211.6" width="2.1" height="6.7" fill="#27713a" stroke="#90e4a0" stroke-width="1"/><rect x="627.38" y="207.9" width="2.1" height="3.7" fill="#c4103c" stroke="#ffb0c2" stroke-width="1"/><rect x="631.43" y="201.2" width="2.1" height="8.9" fill="#27713a" stroke="#90e4a0" stroke-width="1"/><rect x="635.49" y="200.1" width="2.1" height="4.8" fill="#c4103c" stroke="#ffb0c2" stroke-width="1"/><rect x="639.54" y="196.0" width="2.1" height="5.9" fill="#27713a" stroke="#90e4a0" stroke-width="1"/><rect x="643.59" y="185.6" width="2.1" height="11.9" fill="#27713a" stroke="#90e4a0" stroke-width="1"/><rect x="647.64" y="177.4" width="2.1" height="3.0" fill="#27713a" stroke="#90e4a0" stroke-width="1"/><rect x="651.85" y="170.7" width="1.8" height="5.9" fill="#dcefdc"/><rect x="655.90" y="169.2" width="1.8" height="8.2" fill="#f3cdd5"/><rect x="659.95" y="172.2" width="1.8" height="7.4" fill="#dcefdc"/><rect x="664.00" y="158.0" width="1.8" height="12.0" fill="#dcefdc"/><rect x="668.06" y="148.4" width="1.8" height="16.3" fill="#dcefdc"/><rect x="672.11" y="149.9" width="1.8" height="4.4" fill="#f3cdd5"/><rect x="676.16" y="149.9" width="1.8" height="2.2" fill="#f3cdd5"/><rect x="680.06" y="142.5" width="2.1" height="5.1" fill="#27713a" stroke="#90e4a0" stroke-width="1"/><rect x="684.12" y="150.2" width="2.1" height="2.4" fill="#c4103c" stroke="#ffb0c2" stroke-width="1"/><rect x="688.17" y="151.2" width="2.1" height="2.3" fill="#27713a" stroke="#90e4a0" stroke-width="1"/><rect x="692.22" y="153.2" width="2.1" height="2.4" fill="#c4103c" stroke="#ffb0c2" stroke-width="1"/><rect x="696.27" y="155.0" width="2.1" height="7.7" fill="#c4103c" stroke="#ffb0c2" stroke-width="1"/><rect x="700.33" y="167.5" width="2.1" height="2.9" fill="#c4103c" stroke="#ffb0c2" stroke-width="1"/><rect x="704.38" y="169.2" width="2.1" height="5.4" fill="#c4103c" stroke="#ffb0c2" stroke-width="1"/><rect x="708.43" y="169.2" width="2.1" height="14.3" fill="#c4103c" stroke="#ffb0c2" stroke-width="1"/><rect x="712.48" y="181.7" width="2.1" height="6.0" fill="#c4103c" stroke="#ffb0c2" stroke-width="1"/><rect x="716.54" y="179.3" width="2.1" height="7.2" fill="#27713a" stroke="#90e4a0" stroke-width="1"/><rect x="720.59" y="152.0" width="2.1" height="21.4" fill="#c4103c" stroke="#ffb0c2" stroke-width="1"/><rect x="724.64" y="166.9" width="2.1" height="9.5" fill="#27713a" stroke="#90e4a0" stroke-width="1"/><rect x="728.84" y="165.1" width="1.8" height="6.5" fill="#f3cdd5"/><rect x="732.90" y="171.0" width="1.8" height="4.8" fill="#dcefdc"/><rect x="736.95" y="165.7" width="1.8" height="5.3" fill="#dcefdc"/><rect x="741.00" y="165.1" width="1.8" height="4.1" fill="#f3cdd5"/><rect x="745.05" y="160.9" width="1.8" height="6.0" fill="#dcefdc"/><rect x="749.11" y="161.5" width="1.8" height="6.5" fill="#f3cdd5"/><rect x="753.01" y="166.3" width="2.1" height="6.5" fill="#c4103c" stroke="#ffb0c2" stroke-width="1"/><rect x="757.06" y="177.6" width="2.1" height="5.9" fill="#c4103c" stroke="#ffb0c2" stroke-width="1"/><rect x="761.11" y="184.5" width="2.1" height="14.8" fill="#c4103c" stroke="#ffb0c2" stroke-width="1"/><rect x="765.17" y="197.3" width="2.1" height="2.4" fill="#27713a" stroke="#90e4a0" stroke-width="1"/><rect x="769.22" y="187.5" width="2.1" height="7.1" fill="#27713a" stroke="#90e4a0" stroke-width="1"/><rect x="773.27" y="187.5" width="2.1" height="2.3" fill="#c4103c" stroke="#ffb0c2" stroke-width="1"/><rect x="777.32" y="184.5" width="2.1" height="10.1" fill="#27713a" stroke="#90e4a0" stroke-width="1"/><rect x="781.38" y="182.3" width="2.1" height="5.2" fill="#27713a" stroke="#90e4a0" stroke-width="1"/><rect x="785.43" y="179.1" width="2.1" height="4.2" fill="#27713a" stroke="#90e4a0" stroke-width="1"/><rect x="789.63" y="178.0" width="1.8" height="1.2" fill="#dcefdc"/><rect x="793.53" y="173.8" width="2.1" height="7.1" fill="#27713a" stroke="#90e4a0" stroke-width="1"/><rect x="797.59" y="172.0" width="2.1" height="4.2" fill="#c4103c" stroke="#ffb0c2" stroke-width="1"/><rect x="801.64" y="178.5" width="2.1" height="9.5" fill="#c4103c" stroke="#ffb0c2" stroke-width="1"/><rect x="805.84" y="192.2" width="1.8" height="10.1" fill="#f3cdd5"/><rect x="809.89" y="194.6" width="1.8" height="6.5" fill="#dcefdc"/><rect x="813.95" y="195.2" width="1.8" height="4.8" fill="#f3cdd5"/><rect x="818.00" y="197.6" width="1.8" height="2.4" fill="#dcefdc"/><rect x="822.05" y="204.1" width="1.8" height="6.5" fill="#f3cdd5"/><rect x="826.10" y="198.8" width="1.8" height="10.7" fill="#dcefdc"/><rect x="830.01" y="201.1" width="2.1" height="4.2" fill="#c4103c" stroke="#ffb0c2" stroke-width="1"/><rect x="834.06" y="200.3" width="2.1" height="2.4" fill="#c4103c" stroke="#ffb0c2" stroke-width="1"/><rect x="838.11" y="195.6" width="2.1" height="8.9" fill="#c4103c" stroke="#ffb0c2" stroke-width="1"/><rect x="842.31" y="203.3" width="1.8" height="1.2" fill="#dcefdc"/><rect x="846.37" y="196.8" width="1.8" height="8.9" fill="#f3cdd5"/><rect x="850.27" y="196.8" width="2.1" height="2.9" fill="#c4103c" stroke="#ffb0c2" stroke-width="1"/><rect x="854.47" y="202.1" width="1.8" height="1.2" fill="#f3cdd5"/><rect x="858.37" y="201.2" width="2.1" height="5.1" fill="#c4103c" stroke="#ffb0c2" stroke-width="1"/><rect x="862.43" y="205.1" width="2.1" height="2.4" fill="#27713a" stroke="#90e4a0" stroke-width="1"/><rect x="866.48" y="202.1" width="2.1" height="6.5" fill="#27713a" stroke="#90e4a0" stroke-width="1"/><rect x="870.53" y="195.6" width="2.1" height="6.5" fill="#27713a" stroke="#90e4a0" stroke-width="1"/><rect x="874.58" y="195.6" width="2.1" height="2.9" fill="#c4103c" stroke="#ffb0c2" stroke-width="1"/><rect x="878.64" y="198.3" width="2.1" height="2.0" fill="#27713a" stroke="#90e4a0" stroke-width="1"/><rect x="882.84" y="196.2" width="1.8" height="16.0" fill="#f3cdd5"/><rect x="886.89" y="205.7" width="1.8" height="5.9" fill="#f3cdd5"/><rect x="890.94" y="209.2" width="1.8" height="10.7" fill="#f3cdd5"/><rect x="895.00" y="224.7" width="1.8" height="4.8" fill="#dcefdc"/><rect x="899.05" y="222.3" width="1.8" height="6.0" fill="#f3cdd5"/><rect x="903.10" y="227.0" width="1.8" height="4.8" fill="#dcefdc"/><rect x="907.15" y="225.8" width="1.8" height="2.2" fill="#f3cdd5"/><rect x="911.06" y="214.3" width="2.1" height="12.2" fill="#27713a" stroke="#90e4a0" stroke-width="1"/><rect x="915.26" y="213.9" width="1.8" height="5.1" fill="#f3cdd5"/><rect x="919.16" y="213.9" width="2.1" height="8.9" fill="#c4103c" stroke="#ffb0c2" stroke-width="1"/><rect x="923.21" y="225.8" width="2.1" height="10.4" fill="#c4103c" stroke="#ffb0c2" stroke-width="1"/><rect x="927.27" y="235.4" width="2.1" height="6.0" fill="#c4103c" stroke="#ffb0c2" stroke-width="1"/><rect x="931.32" y="241.4" width="2.1" height="5.9" fill="#c4103c" stroke="#ffb0c2" stroke-width="1"/><rect x="935.52" y="242.9" width="1.8" height="1.4" fill="#f3cdd5"/><rect x="939.42" y="244.3" width="2.1" height="2.3" fill="#27713a" stroke="#90e4a0" stroke-width="1"/><rect x="943.48" y="239.9" width="2.1" height="4.4" fill="#c4103c" stroke="#ffb0c2" stroke-width="1"/><rect x="947.53" y="242.1" width="2.1" height="15.6" fill="#c4103c" stroke="#ffb0c2" stroke-width="1"/><rect x="951.58" y="256.0" width="2.1" height="3.2" fill="#27713a" stroke="#90e4a0" stroke-width="1"/><rect x="955.63" y="246.1" width="2.1" height="11.6" fill="#27713a" stroke="#90e4a0" stroke-width="1"/><rect x="959.84" y="242.9" width="1.8" height="2.9" fill="#dcefdc"/><rect x="963.89" y="231.0" width="1.8" height="4.0" fill="#dcefdc"/><rect x="967.94" y="221.3" width="1.8" height="11.2" fill="#dcefdc"/><rect x="971.99" y="196.8" width="1.8" height="23.0" fill="#dcefdc"/><rect x="976.05" y="196.0" width="1.8" height="11.0" fill="#dcefdc"/><rect x="980.10" y="194.5" width="1.8" height="7.5" fill="#dcefdc"/><rect x="984.00" y="197.6" width="2.1" height="8.7" fill="#c4103c" stroke="#ffb0c2" stroke-width="1"/><rect x="988.05" y="202.3" width="2.1" height="4.7" fill="#27713a" stroke="#90e4a0" stroke-width="1"/><rect x="992.11" y="106.0" width="2.1" height="50.8" fill="#27713a" stroke="#90e4a0" stroke-width="1"/><rect x="996.16" y="87.2" width="2.1" height="13.4" fill="#27713a" stroke="#90e4a0" stroke-width="1"/><rect x="1000.21" y="80.6" width="2.1" height="9.8" fill="#27713a" stroke="#90e4a0" stroke-width="1"/><rect x="1004.26" y="81.4" width="2.1" height="4.1" fill="#c4103c" stroke="#ffb0c2" stroke-width="1"/><rect x="1008.47" y="82.0" width="1.8" height="1.5" fill="#dcefdc"/><rect x="1012.52" y="82.0" width="1.8" height="2.0" fill="#dcefdc"/><rect x="1016.42" y="74.9" width="2.1" height="7.7" fill="#27713a" stroke="#90e4a0" stroke-width="1"/><rect x="1020.62" y="74.0" width="1.8" height="1.4" fill="#dcefdc"/><rect x="1024.53" y="46.3" width="2.1" height="23.2" fill="#27713a" stroke="#90e4a0" stroke-width="1"/><rect x="1028.58" y="44.6" width="2.1" height="1.7" fill="#27713a" stroke="#90e4a0" stroke-width="1"/>
<circle cx="920.5" cy="195.5" r="3.3" fill="#ff1744"/>
<circle cx="1029.6" cy="190.3" r="3.3" fill="#00c853"/>
</g>
<line x1="981" y1="40.5" x2="1016" y2="45.2" stroke="#2ecc71" stroke-width="2.2"/>
<polygon points="1024.5,45.8 1013,40.6 1012.4,50.2" fill="#2ecc71"/>
<rect x="889.9" y="25.4" width="89.6" height="17.8" rx="2.5" fill="#0a0a0a" stroke="#2ec46a" stroke-width="1.8"/>
<text x="934.2" y="39.2" text-anchor="middle" font-family="DejaVu Sans, sans-serif" font-weight="bold" font-size="12.5" fill="#2ec46a">$41.21 52W</text>
<line x1="170" y1="294" x2="136" y2="289" stroke="#e8302a" stroke-width="2"/>
<polygon points="129.8,288.3 138.2,285 137.4,292.4" fill="#e8302a"/>
<rect x="171.3" y="291" width="88.8" height="18.4" rx="2.5" fill="#1a1a1a" stroke="#e8302a" stroke-width="1.6"/>
<text x="215.7" y="305" text-anchor="middle" font-family="DejaVu Sans, sans-serif" font-weight="bold" font-size="12.5" fill="#e8302a">$31.09 52W</text>
<rect x="915" y="49.3" width="10" height="10" fill="#ff6b6b"/>
<text x="930.5" y="58.6" font-family="DejaVu Sans, sans-serif" font-weight="bold" font-size="12.3" fill="#ff6b6b">SMA 50</text>
<rect x="915" y="65.5" width="10" height="10" fill="#4ecdc4"/>
<text x="930.5" y="74.8" font-family="DejaVu Sans, sans-serif" font-weight="bold" font-size="12.3" fill="#4ecdc4">SMA 200</text>
<rect x="913.9" y="406.5" width="12.3" height="15.6" fill="#f0143c"/>
<text x="921.1" y="418" text-anchor="middle" font-family="DejaVu Sans, sans-serif" font-weight="bold" font-size="10.5" fill="#fff">S</text>
<rect x="1022.3" y="406.5" width="14" height="15.4" fill="#00c853"/>
<text x="1029.3" y="417.8" text-anchor="middle" font-family="DejaVu Sans, sans-serif" font-weight="bold" font-size="10.8" fill="#fff">B</text>
<rect x="12.5" y="428.0" width="1042.0" height="166.5" fill="#838383"/>
<g clip-path="url(#cv)">
<text x="481.5" y="481.5" text-anchor="middle" font-family="DejaVu Sans, sans-serif" font-weight="bold" font-size="59" fill="#000" fill-opacity="0.065">AD.AS</text>
<text x="482" y="495.7" text-anchor="middle" font-family="DejaVu Sans, sans-serif" font-size="16" fill="#000" fill-opacity="0.055" stroke="#000" stroke-opacity="0.03" stroke-width="0.6">Ahold Delhaize</text>
<path d="M10.42 504.9H14.48V594.5H10.42ZM14.47 542.5H18.53V594.5H14.47ZM22.58 535.2H26.64V594.5H22.58ZM26.63 542.9H30.69V594.5H26.63ZM38.79 538.7H42.85V594.5H38.79ZM42.84 550.6H46.90V594.5H42.84ZM50.95 544.0H55.01V594.5H50.95ZM59.05 558.0H63.11V594.5H59.05ZM63.10 557.1H67.16V594.5H63.10ZM71.21 466.6H75.27V594.5H71.21ZM75.26 567.4H79.32V594.5H75.26ZM87.42 553.2H91.48V594.5H87.42ZM103.63 550.0H107.69V594.5H103.63ZM111.73 516.2H115.79V594.5H111.73ZM115.79 449.1H119.85V594.5H115.79ZM144.15 508.2H148.21V594.5H144.15ZM164.41 549.0H168.47V594.5H164.41ZM168.47 550.6H172.53V594.5H168.47ZM172.52 550.0H176.58V594.5H172.52ZM192.78 521.0H196.84V594.5H192.78ZM196.84 544.0H200.90V594.5H196.84ZM204.94 516.2H209.00V594.5H204.94ZM241.41 538.1H245.47V594.5H241.41ZM245.47 570.3H249.53V594.5H245.47ZM253.57 559.0H257.63V594.5H253.57ZM257.62 563.2H261.68V594.5H257.62ZM265.73 563.8H269.79V594.5H265.73ZM269.78 554.2H273.84V594.5H269.78ZM273.83 558.4H277.89V594.5H273.83ZM277.89 569.0H281.94V594.5H277.89ZM281.94 576.1H286.00V594.5H281.94ZM285.99 567.4H290.05V594.5H285.99ZM294.10 558.4H298.15V594.5H294.10ZM298.15 563.8H302.21V594.5H298.15ZM306.25 560.3H310.31V594.5H306.25ZM314.36 563.2H318.42V594.5H314.36ZM318.41 563.2H322.47V594.5H318.41ZM330.57 557.1H334.63V594.5H330.57ZM334.62 554.2H338.68V594.5H334.62ZM338.67 560.3H342.73V594.5H338.67ZM346.78 555.5H350.84V594.5H346.78ZM354.88 567.4H358.94V594.5H354.88ZM362.99 579.3H367.05V594.5H362.99ZM371.09 544.0H375.15V594.5H371.09ZM383.25 570.3H387.31V594.5H383.25ZM391.36 567.4H395.41V594.5H391.36ZM395.41 553.2H399.47V594.5H395.41ZM399.46 560.9H403.52V594.5H399.46ZM403.51 563.2H407.57V594.5H403.51ZM407.57 567.4H411.62V594.5H407.57ZM411.62 561.3H415.68V594.5H411.62ZM415.67 556.3H419.73V594.5H415.67ZM419.72 565.7H423.78V594.5H419.72ZM423.78 567.4H427.83V594.5H423.78ZM427.83 570.5H431.89V594.5H427.83ZM435.93 570.9H439.99V594.5H435.93ZM439.99 565.1H444.04V594.5H439.99ZM444.04 535.2H448.10V594.5H444.04ZM464.30 546.5H468.36V594.5H464.30ZM472.41 549.6H476.46V594.5H472.41ZM476.46 522.0H480.52V594.5H476.46ZM484.56 553.2H488.62V594.5H484.56ZM488.62 573.2H492.68V594.5H488.62ZM504.83 564.2H508.88V594.5H504.83ZM508.88 568.2H512.94V594.5H508.88ZM516.98 568.6H521.04V594.5H516.98ZM521.04 565.1H525.10V594.5H521.04ZM525.09 563.2H529.15V594.5H525.09ZM529.14 573.2H533.20V594.5H529.14ZM549.40 567.4H553.46V594.5H549.40ZM553.46 569.0H557.52V594.5H553.46ZM557.51 566.1H561.57V594.5H557.51ZM565.61 561.9H569.67V594.5H565.61ZM569.67 556.7H573.73V594.5H569.67ZM573.72 563.2H577.78V594.5H573.72ZM589.93 559.0H593.99V594.5H589.93ZM598.03 560.3H602.09V594.5H598.03ZM618.30 540.0H622.36V594.5H618.30ZM626.40 568.2H630.46V594.5H626.40ZM634.51 565.1H638.57V594.5H634.51ZM654.77 538.1H658.83V594.5H654.77ZM670.98 570.9H675.04V594.5H670.98ZM675.03 579.3H679.09V594.5H675.03ZM683.14 559.0H687.20V594.5H683.14ZM691.24 570.5H695.30V594.5H691.24ZM695.29 565.1H699.35V594.5H695.29ZM699.35 562.6H703.41V594.5H699.35ZM703.40 562.6H707.46V594.5H703.40ZM707.45 560.3H711.51V594.5H707.45ZM711.50 574.5H715.56V594.5H711.50ZM719.61 542.5H723.67V594.5H719.61ZM727.71 557.1H731.77V594.5H727.71ZM739.87 558.4H743.93V594.5H739.87ZM747.98 566.1H752.04V594.5H747.98ZM752.03 573.2H756.09V594.5H752.03ZM756.08 559.0H760.14V594.5H756.08ZM760.13 548.3H764.19V594.5H760.13ZM772.29 510.3H776.35V594.5H772.29ZM796.61 565.5H800.67V594.5H796.61ZM800.66 563.4H804.72V594.5H800.66ZM804.71 543.1H808.77V594.5H804.71ZM812.82 558.4H816.88V594.5H812.82ZM820.92 546.5H824.98V594.5H820.92ZM829.03 574.5H833.09V594.5H829.03ZM833.08 564.2H837.14V594.5H833.08ZM837.13 566.1H841.19V594.5H837.13ZM845.24 559.0H849.30V594.5H845.24ZM849.29 522.0H853.35V594.5H849.29ZM853.34 578.0H857.40V594.5H853.34ZM857.39 579.3H861.45V594.5H857.39ZM873.60 582.4H877.66V594.5H873.60ZM881.71 560.3H885.77V594.5H881.71ZM885.76 564.2H889.82V594.5H885.76ZM889.81 546.0H893.87V594.5H889.81ZM897.92 553.2H901.98V594.5H897.92ZM906.02 544.8H910.08V594.5H906.02ZM914.13 554.2H918.19V594.5H914.13ZM918.18 558.4H922.24V594.5H918.18ZM922.23 567.4H926.29V594.5H922.23ZM926.29 558.4H930.35V594.5H926.29ZM930.34 560.3H934.40V594.5H930.34ZM934.39 559.0H938.45V594.5H934.39ZM942.50 569.2H946.56V594.5H942.50ZM946.55 551.3H950.61V594.5H946.55ZM983.02 562.6H987.08V594.5H983.02ZM1003.28 569.2H1007.34V594.5H1003.28Z" fill="#ff1010"/>
<path d="M18.52 535.2H22.59V594.5H18.52ZM30.68 541.9H34.74V594.5H30.68ZM34.73 538.7H38.80V594.5H34.73ZM46.89 554.2H50.95V594.5H46.89ZM55.00 542.9H59.06V594.5H55.00ZM67.16 560.3H71.22V594.5H67.16ZM79.31 565.1H83.37V594.5H79.31ZM83.37 568.4H87.43V594.5H83.37ZM91.47 544.4H95.53V594.5H91.47ZM95.52 540.4H99.58V594.5H95.52ZM99.58 561.9H103.64V594.5H99.58ZM107.68 534.6H111.74V594.5H107.68ZM119.84 488.4H123.90V594.5H119.84ZM123.89 473.9H127.95V594.5H123.89ZM127.94 503.8H132.00V594.5H127.94ZM132.00 505.5H136.06V594.5H132.00ZM136.05 508.6H140.11V594.5H136.05ZM140.10 513.9H144.16V594.5H140.10ZM148.20 538.1H152.26V594.5H148.20ZM152.26 527.4H156.32V594.5H152.26ZM156.31 514.3H160.37V594.5H156.31ZM160.36 546.0H164.42V594.5H160.36ZM176.57 528.1H180.63V594.5H176.57ZM180.62 538.7H184.69V594.5H180.62ZM184.68 563.8H188.74V594.5H184.68ZM188.73 550.0H192.79V594.5H188.73ZM200.89 553.2H204.95V594.5H200.89ZM208.99 547.1H213.05V594.5H208.99ZM213.04 544.0H217.10V594.5H213.04ZM217.10 556.1H221.16V594.5H217.10ZM221.15 540.0H225.21V594.5H221.15ZM225.20 563.2H229.26V594.5H225.20ZM229.25 558.0H233.31V594.5H229.25ZM233.31 558.8H237.37V594.5H233.31ZM237.36 553.4H241.42V594.5H237.36ZM249.52 561.3H253.58V594.5H249.52ZM261.68 500.3H265.74V594.5H261.68ZM290.04 567.4H294.10V594.5H290.04ZM302.20 539.4H306.26V594.5H302.20ZM310.31 561.3H314.36V594.5H310.31ZM322.46 472.1H326.52V594.5H322.46ZM326.52 566.1H330.57V594.5H326.52ZM342.73 566.1H346.78V594.5H342.73ZM350.83 567.4H354.89V594.5H350.83ZM358.94 567.4H363.00V594.5H358.94ZM367.04 574.5H371.10V594.5H367.04ZM375.15 556.3H379.20V594.5H375.15ZM379.20 565.1H383.26V594.5H379.20ZM387.30 567.4H391.36V594.5H387.30ZM431.88 573.2H435.94V594.5H431.88ZM448.09 561.3H452.15V594.5H448.09ZM452.14 565.1H456.20V594.5H452.14ZM456.20 544.0H460.25V594.5H456.20ZM460.25 546.0H464.31V594.5H460.25ZM468.35 539.4H472.41V594.5H468.35ZM480.51 557.1H484.57V594.5H480.51ZM492.67 566.1H496.73V594.5H492.67ZM496.72 569.2H500.78V594.5H496.72ZM500.77 563.4H504.83V594.5H500.77ZM512.93 521.4H516.99V594.5H512.93ZM533.19 559.0H537.25V594.5H533.19ZM537.25 561.9H541.31V594.5H537.25ZM541.30 560.3H545.36V594.5H541.30ZM545.35 563.4H549.41V594.5H545.35ZM561.56 566.1H565.62V594.5H561.56ZM577.77 551.9H581.83V594.5H577.77ZM581.82 551.9H585.88V594.5H581.82ZM585.88 498.4H589.94V594.5H585.88ZM593.98 568.2H598.04V594.5H593.98ZM602.09 571.3H606.15V594.5H602.09ZM606.14 573.2H610.20V594.5H606.14ZM610.19 573.2H614.25V594.5H610.19ZM614.24 551.9H618.30V594.5H614.24ZM622.35 561.3H626.41V594.5H622.35ZM630.45 559.0H634.51V594.5H630.45ZM638.56 565.1H642.62V594.5H638.56ZM642.61 558.0H646.67V594.5H642.61ZM646.66 528.1H650.72V594.5H646.66ZM650.72 561.9H654.78V594.5H650.72ZM658.82 559.0H662.88V594.5H658.82ZM662.87 559.0H666.93V594.5H662.87ZM666.93 551.9H670.99V594.5H666.93ZM679.08 567.4H683.14V594.5H679.08ZM687.19 577.0H691.25V594.5H687.19ZM715.56 559.0H719.62V594.5H715.56ZM723.66 559.0H727.72V594.5H723.66ZM731.77 573.2H735.83V594.5H731.77ZM735.82 570.9H739.88V594.5H735.82ZM743.92 567.4H747.98V594.5H743.92ZM764.19 554.2H768.25V594.5H764.19ZM768.24 555.5H772.30V594.5H768.24ZM776.34 564.2H780.40V594.5H776.34ZM780.40 561.3H784.46V594.5H780.40ZM784.45 579.9H788.51V594.5H784.45ZM788.50 572.2H792.56V594.5H788.50ZM792.55 568.6H796.61V594.5H792.55ZM808.76 569.2H812.82V594.5H808.76ZM816.87 567.4H820.93V594.5H816.87ZM824.97 567.4H829.03V594.5H824.97ZM841.18 551.3H845.24V594.5H841.18ZM861.45 592.4H865.51V594.5H861.45ZM865.50 567.4H869.56V594.5H865.50ZM869.55 569.0H873.61V594.5H869.55ZM877.66 564.2H881.72V594.5H877.66ZM893.87 532.5H897.93V594.5H893.87ZM901.97 546.0H906.03V594.5H901.97ZM910.08 550.2H914.14V594.5H910.08ZM938.44 564.2H942.50V594.5H938.44ZM950.60 541.7H954.66V594.5H950.60ZM954.65 553.6H958.71V594.5H954.65ZM958.71 549.6H962.77V594.5H958.71ZM962.76 558.4H966.82V594.5H962.76ZM966.81 558.4H970.87V594.5H966.81ZM970.86 542.5H974.92V594.5H970.86ZM974.92 560.3H978.98V594.5H974.92ZM978.97 556.3H983.03V594.5H978.97ZM987.07 562.6H991.13V594.5H987.07ZM991.13 495.3H995.19V594.5H991.13ZM995.18 519.1H999.24V594.5H995.18ZM999.23 531.2H1003.29V594.5H999.23ZM1007.34 559.0H1011.40V594.5H1007.34ZM1011.39 557.1H1015.45V594.5H1011.39ZM1015.44 542.5H1019.50V594.5H1015.44ZM1019.49 540.0H1023.55V594.5H1019.49ZM1023.55 545.2H1027.61V594.5H1023.55ZM1027.60 546.3H1031.66V594.5H1027.60Z" fill="#169616"/>
</g>
<rect x="12.5" y="12.5" width="1042.0" height="415.0" fill="none" stroke="#a0a0a0" stroke-width="1"/>
<rect x="12.5" y="428.5" width="1042.0" height="166.0" fill="none" stroke="#a0a0a0" stroke-width="1"/>
<path d="M1054.5 410.5h5 M1054.5 362.5h5 M1054.5 314.5h5 M1054.5 266.5h5 M1054.5 219.5h5 M1054.5 171.5h5 M1054.5 123.5h5 M1054.5 75.5h5 M1054.5 28.5h5 M1054.5 554.2h5 M1054.5 512.4h5 M1054.5 470.6h5 M1054.5 428.8h5 M16.5 594.5v5 M101.5 594.5v5 M182.5 594.5v5 M267.5 594.5v5 M352.5 594.5v5 M446.5 594.5v5 M531.5 594.5v5 M620.5 594.5v5 M713.5 594.5v5 M794.5 594.5v5 M879.5 594.5v5 M964.5 594.5v5" stroke="#e8e8e8" stroke-width="1.1" fill="none"/>
<g font-family="DejaVu Sans, sans-serif" font-size="13.3" fill="#e8e8e8"><text x="1064.4" y="416.4">26.0</text><text x="1064.4" y="368.4">28.0</text><text x="1064.4" y="320.4">30.0</text><text x="1064.4" y="272.4">32.0</text><text x="1064.4" y="225.4">34.0</text><text x="1064.4" y="177.4">36.0</text><text x="1064.4" y="129.4">38.0</text><text x="1064.4" y="81.4">40.0</text><text x="1064.4" y="34.4">42.0</text><text x="1064.4" y="559.3">2</text><text x="1064.4" y="517.5">4</text><text x="1064.4" y="475.7">6</text><text x="1064.4" y="433.9">8</text></g>
<text transform="translate(1110.6,222.8) rotate(-90)" text-anchor="middle" font-family="DejaVu Sans, sans-serif" font-size="13.8" fill="#e0e0e0">Preis</text>
<text transform="translate(1088.3,513.6) rotate(-90)" text-anchor="middle" font-family="DejaVu Sans, sans-serif" font-size="13.6" fill="#e0e0e0">Volumen</text>
<text transform="translate(1107,508) rotate(-90)" text-anchor="middle" font-family="DejaVu Sans, sans-serif" font-size="13" fill="#e0e0e0">10<tspan dx="1" dy="-5" font-size="9">6</tspan></text>
<text transform="translate(100.7,632.1) rotate(-45)" text-anchor="middle" dominant-baseline="central" font-family="DejaVu Sans, sans-serif" font-size="13.8" fill="#e8e8e8">Apr 2025</text>
<text transform="translate(266.7,632.1) rotate(-45)" text-anchor="middle" dominant-baseline="central" font-family="DejaVu Sans, sans-serif" font-size="13.8" fill="#e8e8e8">Jun 2025</text>
<text transform="translate(445.7,632.1) rotate(-45)" text-anchor="middle" dominant-baseline="central" font-family="DejaVu Sans, sans-serif" font-size="13.8" fill="#e8e8e8">Aug 2025</text>
<text transform="translate(619.6,632.1) rotate(-45)" text-anchor="middle" dominant-baseline="central" font-family="DejaVu Sans, sans-serif" font-size="13.8" fill="#e8e8e8">Oct 2025</text>
<text transform="translate(793.7,632.1) rotate(-45)" text-anchor="middle" dominant-baseline="central" font-family="DejaVu Sans, sans-serif" font-size="13.8" fill="#e8e8e8">Dec 2025</text>
<text transform="translate(963.6,632.1) rotate(-45)" text-anchor="middle" dominant-baseline="central" font-family="DejaVu Sans, sans-serif" font-size="13.8" fill="#e8e8e8">Feb 2026</text>
</svg></div></body></html>
